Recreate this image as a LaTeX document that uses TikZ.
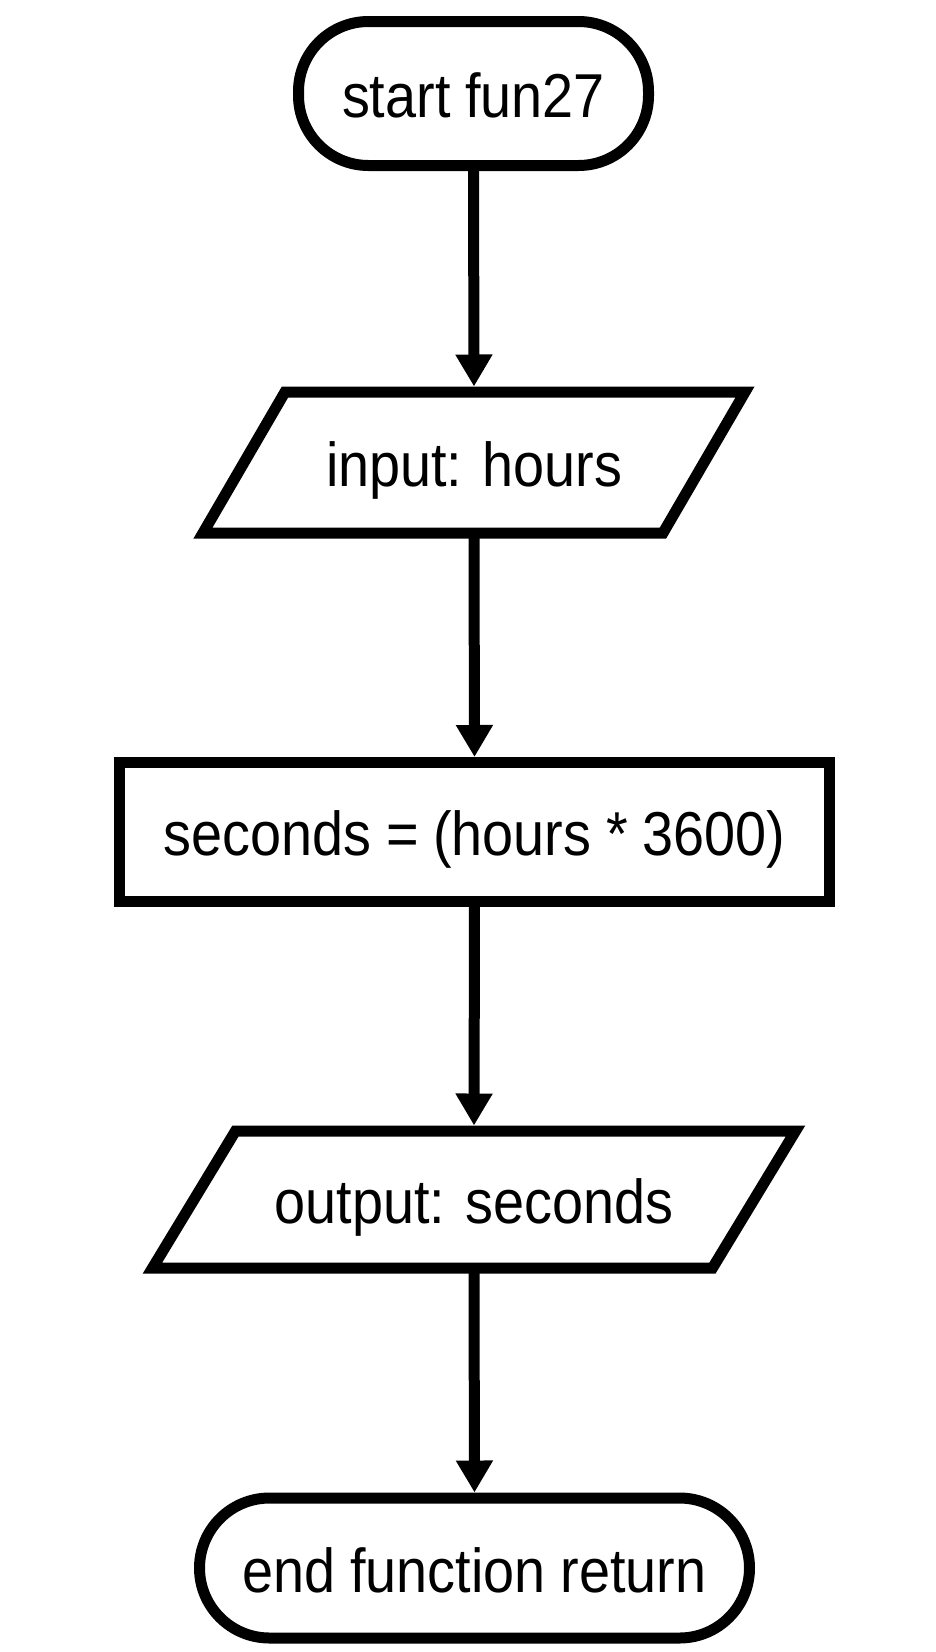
\documentclass[tikz,border=0pt]{standalone}
\usepackage{fontspec}
\setmainfont{Liberation Sans}[FakeStretch=0.9, WordSpace=0.95]
\usetikzlibrary{arrows.meta}

\tikzset{
  base/.style={inner sep=0pt, outer sep=0pt, line width=11pt,
    font=\fontsize{62}{74}\selectfont, text=black,
    text height=48pt, text depth=0pt},
  termbox/.style={base, draw=black, fill=white, rectangle, rounded corners=70pt},
  procbox/.style={base, draw=black, fill=white, rectangle},
  iobox/.style={base, draw=none, rectangle},
  ioframe/.style={draw=black, fill=white, line width=11pt, line join=miter},
  flow/.style={draw=black, line width=11pt,
    -{Triangle[length=32pt, width=35pt]}, shorten >=5.5pt}
}

\begin{document}
\begin{tikzpicture}[x=1pt, y=-1pt]
  \useasboundingbox (0,0) rectangle (936,1652);

  % terminators and process step
  \node[termbox, minimum width=350pt, minimum height=144pt] (start) at (473.5,93.5) {start fun27};
  \node[procbox, minimum width=710pt, minimum height=138.5pt] (calc) at (474.5,831.75) {seconds = (hours * 3600)};
  \node[termbox, minimum width=550pt, minimum height=140pt] (stop) at (474.5,1568) {end function return};

  % input / output parallelograms (frame drawn from the node's corners)
  \node[iobox, minimum width=460pt, minimum height=141pt] (inp) at (474,462.5) {};
  \draw[ioframe] ([xshift=41pt]inp.north west) -- ([xshift=41pt]inp.north east)
    -- ([xshift=-41pt]inp.south east) -- ([xshift=-41pt]inp.south west) -- cycle;
  \node[base] at (inp.center) {input: hours};

  \node[iobox, minimum width=560pt, minimum height=137pt] (outp) at (474,1199.5) {};
  \draw[ioframe] ([xshift=41.5pt]outp.north west) -- ([xshift=41.5pt]outp.north east)
    -- ([xshift=-41.5pt]outp.south east) -- ([xshift=-41.5pt]outp.south west) -- cycle;
  \node[base] at (outp.center) {output: seconds};

  % connectors
  \draw[flow] (start.south) -- (inp.north);
  \draw[flow] (inp.south) -- (calc.north);
  \draw[flow] (calc.south) -- (outp.north);
  \draw[flow] (outp.south) -- (stop.north);
\end{tikzpicture}
\end{document}
